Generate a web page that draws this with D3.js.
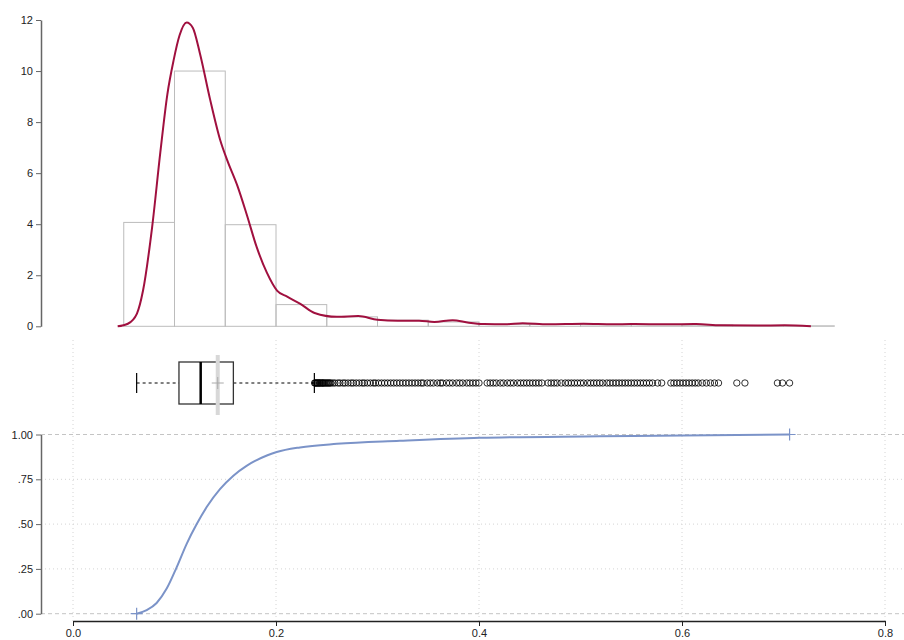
<!DOCTYPE html>
<html>
<head>
<meta charset="utf-8">
<script src="https://cdn.jsdelivr.net/npm/d3@7"></script>
<style>
  body { margin: 0; background: #fff; }
  text { font-family: "Liberation Sans", Arial, sans-serif; }
</style>
</head>
<body>
<div id="chart"></div>
<script>
// histogram bins (width 0.05) and densities
var binStarts = [0.05, 0.10, 0.15, 0.20, 0.25, 0.30, 0.35, 0.40, 0.45, 0.50, 0.55, 0.60, 0.65, 0.70];
var binHeights = [4.07, 10.0, 3.98, 0.85, 0.37, 0.24, 0.17, 0.08, 0.07, 0.06, 0.06, 0.05, 0.03, 0.02];

// kernel density estimate
var densX = [0.044, 0.054, 0.063, 0.069, 0.078, 0.086, 0.093, 0.099, 0.105, 0.112, 0.118, 0.125, 0.135, 0.145,
             0.152, 0.162, 0.171, 0.181, 0.191, 0.201, 0.211, 0.224, 0.238, 0.260, 0.281, 0.300, 0.320, 0.341,
             0.356, 0.374, 0.390, 0.405, 0.426, 0.443, 0.468, 0.503, 0.532, 0.550, 0.585, 0.614, 0.638, 0.674,
             0.701, 0.727];
var densY = [0.0, 0.1, 0.5, 1.4, 3.9, 6.8, 9.1, 10.4, 11.4, 11.9, 11.7, 10.7, 8.9, 7.3,
             6.5, 5.5, 4.4, 3.1, 2.1, 1.4, 1.16, 0.88, 0.52, 0.37, 0.40, 0.26, 0.22, 0.22,
             0.17, 0.24, 0.14, 0.09, 0.08, 0.12, 0.08, 0.10, 0.08, 0.09, 0.08, 0.09, 0.04, 0.03,
             0.04, 0.0];

// boxplot summary
var boxStats = { min: 0.0627, q1: 0.1044, median: 0.1258, mean: 0.1426, q3: 0.158, whiskerHi: 0.2378 };
var outliers = [
  0.238, 0.239, 0.239, 0.240, 0.241, 0.241, 0.242, 0.243, 0.243, 0.244, 0.245, 0.246, 0.246, 0.247, 0.248,
  0.249, 0.250, 0.251, 0.252, 0.253, 0.254, 0.256, 0.258, 0.261, 0.263, 0.266, 0.268, 0.271, 0.274, 0.276,
  0.279, 0.282, 0.285, 0.287, 0.290, 0.293, 0.296, 0.298, 0.301, 0.304, 0.307, 0.310, 0.313, 0.316, 0.319,
  0.322, 0.325, 0.328, 0.331, 0.334, 0.337, 0.340, 0.343, 0.345, 0.349, 0.352, 0.355, 0.359, 0.362, 0.364,
  0.368, 0.371, 0.374, 0.378, 0.381, 0.384, 0.388, 0.391, 0.394, 0.397, 0.400, 0.408, 0.411, 0.414, 0.417,
  0.421, 0.424, 0.428, 0.431, 0.434, 0.438, 0.441, 0.444, 0.447, 0.450, 0.453, 0.456, 0.459, 0.462, 0.468,
  0.471, 0.474, 0.477, 0.481, 0.485, 0.488, 0.491, 0.494, 0.497, 0.500, 0.503, 0.507, 0.510, 0.513, 0.516,
  0.519, 0.522, 0.526, 0.529, 0.532, 0.535, 0.538, 0.541, 0.544, 0.547, 0.550, 0.553, 0.556, 0.559, 0.562,
  0.565, 0.568, 0.571, 0.576, 0.580, 0.589, 0.592, 0.595, 0.598, 0.601, 0.604, 0.607, 0.610, 0.613, 0.616,
  0.620, 0.624, 0.628, 0.632, 0.636, 0.654, 0.662, 0.694, 0.699, 0.706];

var ecdfX = [0.0627, 0.0726, 0.0824, 0.0923, 0.1022, 0.112, 0.1219, 0.1317, 0.1448, 0.158, 0.171, 0.181,
             0.191, 0.2007, 0.2236, 0.26, 0.322, 0.401, 0.519, 0.601, 0.706];
var ecdfY = [0.0, 0.02, 0.06, 0.14, 0.26, 0.39, 0.50, 0.595, 0.695, 0.77, 0.825, 0.857,
             0.883, 0.902, 0.928, 0.948, 0.965, 0.982, 0.99, 0.995, 1.0];

var xTicks = [0, 0.2, 0.4, 0.6, 0.8];
var histTicks = [0, 2, 4, 6, 8, 10, 12];
var ecdfTicks = [0, 0.25, 0.5, 0.75, 1];
var ecdfTickLabels = [".00", ".25", ".50", ".75", "1.00"];

var width = 904, height = 640;
var svg = d3.select("#chart").append("svg")
  .attr("width", width).attr("height", height);

var x = d3.scaleLinear().domain([0, 0.8]).range([73, 885]);
var yHist = d3.scaleLinear().domain([0, 12]).range([326.3, 20]);
var yEcdf = d3.scaleLinear().domain([0, 1]).range([613.7, 434.5]);
var boxY = 383;

// ---- grid for lower panel
svg.selectAll(".vgrid").data(xTicks).enter().append("line")
  .attr("x1", d => x(d)).attr("x2", d => x(d))
  .attr("y1", 340).attr("y2", 621)
  .attr("stroke", "#d4d4d4").attr("stroke-dasharray", "1,3");

svg.selectAll(".hgrid").data([0.25, 0.5, 0.75]).enter().append("line")
  .attr("x1", 41).attr("x2", width)
  .attr("y1", d => yEcdf(d)).attr("y2", d => yEcdf(d))
  .attr("stroke", "#d4d4d4").attr("stroke-dasharray", "1,3");

svg.selectAll(".refline").data([0, 1]).enter().append("line")
  .attr("x1", 41).attr("x2", width)
  .attr("y1", d => yEcdf(d)).attr("y2", d => yEcdf(d))
  .attr("stroke", "#c4c4c4").attr("stroke-dasharray", "4,3");

// ---- histogram
svg.selectAll(".bin").data(binStarts).enter().append("rect")
  .attr("x", d => x(d))
  .attr("y", (d, i) => yHist(binHeights[i]))
  .attr("width", d => x(d + 0.05) - x(d))
  .attr("height", (d, i) => yHist(0) - yHist(binHeights[i]))
  .attr("fill", "none").attr("stroke", "#bcbcbc").attr("stroke-width", 1);

var densLine = d3.line()
  .x((d, i) => x(densX[i])).y((d, i) => yHist(densY[i]))
  .curve(d3.curveMonotoneX);
svg.append("path").datum(densX)
  .attr("d", densLine)
  .attr("fill", "none").attr("stroke", "#a0103f").attr("stroke-width", 2);

var histAxis = svg.append("g")
  .attr("transform", "translate(41,0)")
  .call(d3.axisLeft(yHist).tickValues(histTicks).tickSize(5).tickSizeOuter(0));
histAxis.select(".domain").attr("stroke", "#666").attr("stroke-width", 1.5);
histAxis.selectAll(".tick line").attr("stroke", "#666");
histAxis.selectAll("text").attr("fill", "#222").style("font-size", "11px")
  .style("font-family", "Liberation Sans, Arial, sans-serif");

// ---- boxplot
svg.append("line")
  .attr("x1", x(boxStats.min)).attr("x2", x(boxStats.q1))
  .attr("y1", boxY).attr("y2", boxY)
  .attr("stroke", "#000").attr("stroke-dasharray", "3,3");
svg.append("line")
  .attr("x1", x(boxStats.q3)).attr("x2", x(boxStats.whiskerHi))
  .attr("y1", boxY).attr("y2", boxY)
  .attr("stroke", "#000").attr("stroke-dasharray", "3,3");
svg.selectAll(".cap").data([boxStats.min, boxStats.whiskerHi]).enter().append("line")
  .attr("x1", d => x(d)).attr("x2", d => x(d))
  .attr("y1", boxY - 10).attr("y2", boxY + 10)
  .attr("stroke", "#000").attr("stroke-width", 1.2);

svg.append("rect")
  .attr("x", x(boxStats.q1)).attr("y", boxY - 21)
  .attr("width", x(boxStats.q3) - x(boxStats.q1)).attr("height", 42)
  .attr("fill", "#fff").attr("stroke", "#333").attr("stroke-width", 1.3);
svg.append("line")
  .attr("x1", x(boxStats.median)).attr("x2", x(boxStats.median))
  .attr("y1", boxY - 21).attr("y2", boxY + 21)
  .attr("stroke", "#000").attr("stroke-width", 2.5);

// mean marker
svg.append("rect")
  .attr("x", x(boxStats.mean) - 2).attr("y", boxY - 28)
  .attr("width", 4).attr("height", 60)
  .attr("fill", "#d8d8d8");
svg.append("path")
  .attr("d", "M" + (x(boxStats.mean) - 6) + "," + boxY + "h12M" + x(boxStats.mean) + "," + (boxY - 6) + "v12")
  .attr("stroke", "#aaa").attr("stroke-width", 1);

svg.selectAll(".outlier").data(outliers).enter().append("circle")
  .attr("cx", d => x(d)).attr("cy", boxY).attr("r", 3.2)
  .attr("fill", "none").attr("stroke", "#000").attr("stroke-opacity", 0.8).attr("stroke-width", 1);

// ---- ecdf
var ecdfLine = d3.line()
  .x((d, i) => x(ecdfX[i])).y((d, i) => yEcdf(ecdfY[i]))
  .curve(d3.curveMonotoneX);
svg.append("path").datum(ecdfX)
  .attr("d", ecdfLine)
  .attr("fill", "none").attr("stroke", "#7b93c8").attr("stroke-width", 2);

var ends = [0, ecdfX.length - 1];
svg.selectAll(".endmark").data(ends).enter().append("path")
  .attr("d", i => {
    var cx = x(ecdfX[i]), cy = yEcdf(ecdfY[i]);
    return "M" + (cx - 6) + "," + cy + "h12M" + cx + "," + (cy - 6) + "v12";
  })
  .attr("stroke", "#7b93c8").attr("stroke-width", 1.2);

var ecdfAxis = svg.append("g")
  .attr("transform", "translate(41,0)")
  .call(d3.axisLeft(yEcdf).tickValues(ecdfTicks).tickSize(5).tickSizeOuter(0)
    .tickFormat((d, i) => ecdfTickLabels[i]));
ecdfAxis.select(".domain").attr("stroke", "#666").attr("stroke-width", 1.5);
ecdfAxis.selectAll(".tick line").attr("stroke", "#666");
ecdfAxis.selectAll("text").attr("fill", "#222").style("font-size", "11px")
  .style("font-family", "Liberation Sans, Arial, sans-serif");

var xAxis = svg.append("g")
  .attr("transform", "translate(0,621)")
  .call(d3.axisBottom(x).tickValues(xTicks).tickSize(5).tickPadding(3).tickSizeOuter(0)
    .tickFormat(d3.format(".1f")));
xAxis.select(".domain").attr("stroke", "#222").attr("stroke-width", 1.3);
xAxis.selectAll(".tick line").attr("stroke", "#222");
xAxis.selectAll("text").attr("fill", "#222").style("font-size", "11px")
  .style("font-family", "Liberation Sans, Arial, sans-serif");
</script>
</body>
</html>
